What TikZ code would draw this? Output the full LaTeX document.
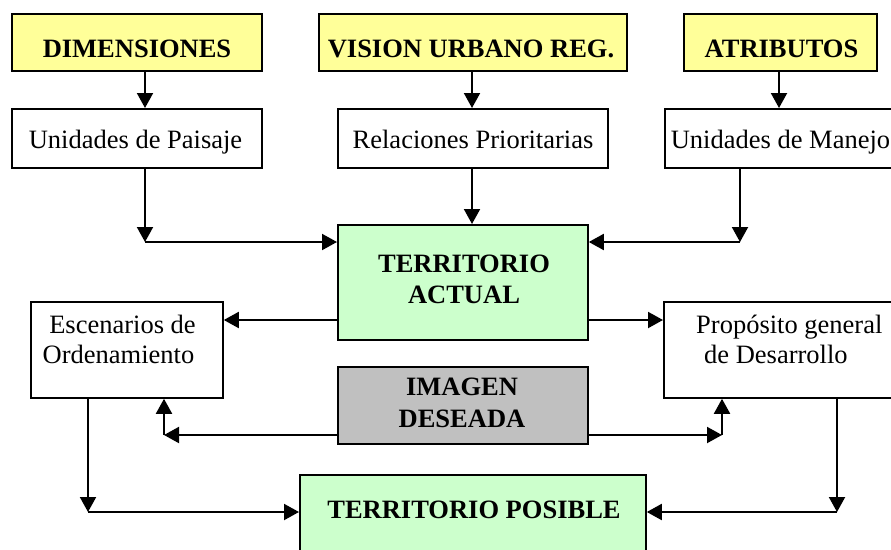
\documentclass[tikz,border=0pt]{standalone}
\usepackage{fontspec}
\setmainfont{Liberation Serif}
\usetikzlibrary{arrows.meta}
\definecolor{boxyellow}{HTML}{FFFF99}
\definecolor{boxgreen}{HTML}{CCFFCC}
\definecolor{boxgray}{HTML}{C0C0C0}
\tikzset{
  box/.style={draw=black, line width=1.8pt, rectangle, inner sep=0pt, anchor=north west},
  ybox/.style={box, fill=boxyellow},
  gbox/.style={box, fill=boxgreen},
  sbox/.style={box, fill=boxgray},
  wbox/.style={box, fill=white},
  lbl/.style={anchor=base, inner sep=0pt, font=\fontsize{26.5}{30}\selectfont},
  blbl/.style={lbl, font=\fontsize{26.5}{30}\selectfont\bfseries},
  arr/.style={line width=2pt, -{Triangle[length=15pt,width=16pt]}},
  ln/.style={line width=2pt}
}
\begin{document}
\begin{tikzpicture}[x=1pt,y=-1pt]
\useasboundingbox (0,0) rectangle (891,549);
\clip (0,0) rectangle (891,549);
% boxes
\node[ybox, minimum width=250pt, minimum height=57pt] (dim) at (11,13) {};
\node[ybox, minimum width=308pt, minimum height=57pt] (vis) at (318,13) {};
\node[ybox, minimum width=193pt, minimum height=57pt] (atr) at (683,13) {};
\node[wbox, minimum width=250pt, minimum height=59pt] (up) at (11,108) {};
\node[wbox, minimum width=270pt, minimum height=59pt] (rp) at (337,108) {};
\node[wbox, minimum width=240pt, minimum height=59pt] (um) at (664,108) {};
\node[gbox, minimum width=250pt, minimum height=115pt] (ta) at (337,224) {};
\node[wbox, minimum width=192pt, minimum height=96pt] (esc) at (30,301) {};
\node[wbox, minimum width=240pt, minimum height=96pt] (prop) at (663,301) {};
\node[sbox, minimum width=250pt, minimum height=77pt] (img) at (337,366) {};
\node[gbox, minimum width=346pt, minimum height=90pt] (tp) at (299,474) {};
% texts
\node[blbl] (tdim) at (137,57) {DIMENSIONES};
\node[blbl] (tvis) at (471,57) {VISION URBANO REG.};
\node[blbl] (tatr) at (781.5,57) {ATRIBUTOS};
\node[lbl] (tup) at (135.5,148) {Unidades de Paisaje};
\node[lbl] (trp) at (473,148) {Relaciones Prioritarias};
\node[lbl] (tum) at (780.5,148) {Unidades de Manejo};
\node[blbl] (tta1) at (464,272) {TERRITORIO};
\node[blbl] (tta2) at (464,303) {ACTUAL};
\node[lbl] (tesc1) at (122.5,333) {Escenarios de};
\node[lbl] (tesc2) at (118.5,363) {Ordenamiento};
\node[lbl, anchor=base west] (tprop1) at (696,333) {Propósito general};
\node[lbl, anchor=base west] (tprop2) at (704,363) {de Desarrollo};
\node[blbl] (timg1) at (462,395) {IMAGEN};
\node[blbl] (timg2) at (462,427) {DESEADA};
\node[blbl] (ttp) at (474,518) {TERRITORIO POSIBLE};
% junction coordinates
\coordinate (j1) at (145,242);
\coordinate (j2) at (740,242);
\coordinate (r1) at (472,0);
\coordinate (r2) at (779,0);
\coordinate (y1) at (0,320);
\coordinate (k1) at (164,435);
\coordinate (k2) at (722,435);
\coordinate (m1) at (88,512);
\coordinate (m2) at (837,512);
% top arrows
\draw[arr] (dim.south -| j1) -- (up.north -| j1);
\draw[arr] (vis.south -| r1) -- (rp.north -| r1);
\draw[arr] (atr.south -| r2) -- (um.north -| r2);
% into territorio actual
\draw[arr] (up.south -| j1) -- (j1);
\draw[arr] (j1) -- (ta.west |- j1);
\draw[arr] (rp.south -| r1) -- (ta.north -| r1);
\draw[arr] (um.south -| j2) -- (j2);
\draw[arr] (j2) -- (ta.east |- j2);
% territorio actual outputs
\draw[arr] (ta.west |- y1) -- (esc.east |- y1);
\draw[arr] (ta.east |- y1) -- (prop.west |- y1);
% imagen deseada
\draw[arr] (img.west |- k1) -- (k1);
\draw[arr] (k1) -- (esc.south -| k1);
\draw[arr] (img.east |- k2) -- (k2);
\draw[arr] (k2) -- (prop.south -| k2);
% to territorio posible
\draw[arr] (esc.south -| m1) -- (m1);
\draw[arr] (m1) -- (tp.west |- m1);
\draw[arr] (prop.south -| m2) -- (m2);
\draw[arr] (m2) -- (tp.east |- m2);
\end{tikzpicture}
\end{document}
